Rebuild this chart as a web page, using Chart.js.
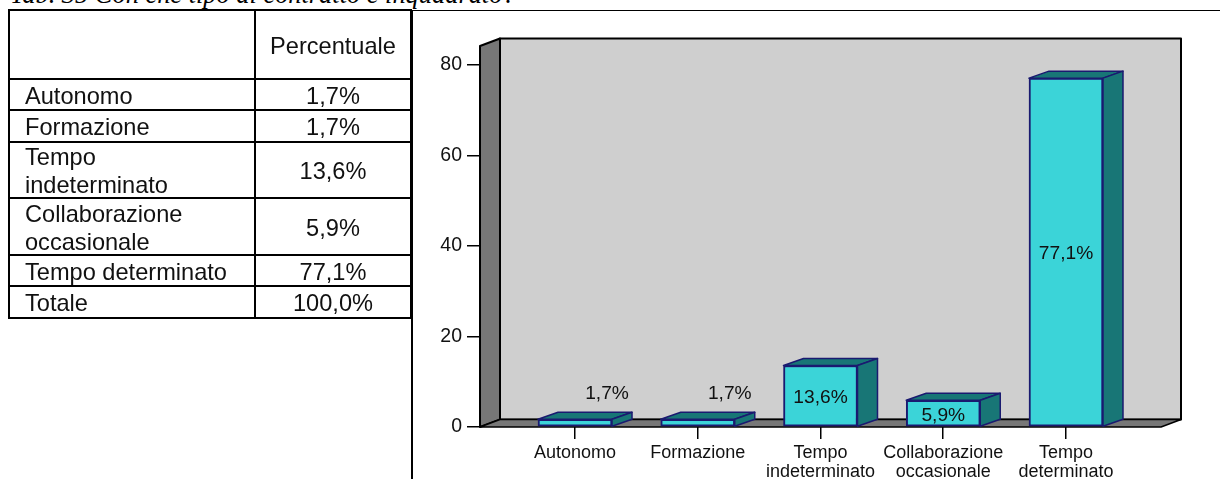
<!DOCTYPE html>
<html>
<head>
<meta charset="utf-8">
<script src="https://cdn.jsdelivr.net/npm/chart.js@4"></script>
<style>
html, body { margin: 0; padding: 0; background: #fff; width: 1220px; height: 479px; overflow: hidden; }
body { position: relative; font-family: "Liberation Sans", Arial, sans-serif; color: #000; }
#title { position: absolute; left: 10px; top: -21px; font: italic 26.4px "Liberation Serif", serif; white-space: nowrap; }
#chartBox { position: absolute; left: 0; top: 0; width: 1220px; height: 479px; }
#topLine { position: absolute; left: 412px; top: 10px; width: 808px; height: 1px; background: #000; }
#sideLine { position: absolute; left: 411px; top: 10px; width: 2px; height: 469px; background: #000; }
#dataTable { position: absolute; left: 8px; top: 9px; width: 404px; border-collapse: collapse; table-layout: fixed; font-size: 23.6px; line-height: 28px; color: #111; }
#dataTable td { border: 2px solid #000; padding: 0 0 0 15px; }
#dataTable td.num { text-align: center; padding: 0; }
#dataTable td div { margin: -2px 0; position: relative; top: 1px; }
</style>
</head>
<body>
<div id="title">Tab. 35 Con che tipo di contratto è inquadrato?</div>
<div id="chartBox"><canvas id="contractChart"></canvas></div>
<div id="topLine"></div>
<div id="sideLine"></div>
<table id="dataTable"></table>
<script>
const categories = ['Autonomo', 'Formazione', 'Tempo indeterminato', 'Collaborazione occasionale', 'Tempo determinato'];
const values = [1.7, 1.7, 13.6, 5.9, 77.1];
const valueLabels = ['1,7%', '1,7%', '13,6%', '5,9%', '77,1%'];
const yTicks = [0, 20, 40, 60, 80];
const xLabelLines = [['Autonomo'], ['Formazione'], ['Tempo', 'indeterminato'], ['Collaborazione', 'occasionale'], ['Tempo', 'determinato']];
const tableHeader = 'Percentuale';
const tableNames = ['Autonomo', 'Formazione', 'Tempo<br>indeterminato', 'Collaborazione<br>occasionale', 'Tempo determinato', 'Totale'];
const tableValues = ['1,7%', '1,7%', '13,6%', '5,9%', '77,1%', '100,0%'];

// table on the left
const rowHeights = [69, 31, 32, 56, 57, 31, 32];
let html = `<colgroup><col style="width:246px"><col></colgroup>`;
html += `<tr style="height:${rowHeights[0]}px"><td></td><td class="num"><div>${tableHeader}</div></td></tr>`;
tableNames.forEach((name, i) => {
    html += `<tr style="height:${rowHeights[i + 1]}px"><td><div>${name}</div></td><td class="num"><div>${tableValues[i]}</div></td></tr>`;
});
document.getElementById('dataTable').innerHTML = html;

// fake 3D depth of the old spreadsheet chart
const depthX = 20;
const depthY = 7.5;
const barDepthX = 20;
const barDepthY = 7;

function poly(ctx, pts, fill, stroke, lw) {
    ctx.beginPath();
    pts.forEach((p, i) => i ? ctx.lineTo(p[0], p[1]) : ctx.moveTo(p[0], p[1]));
    ctx.closePath();
    ctx.fillStyle = fill;
    ctx.fill();
    ctx.strokeStyle = stroke;
    ctx.lineWidth = lw;
    ctx.stroke();
}

const wallPlugin = {
    id: 'wall',
    beforeDatasetsDraw(chart) {
        const { ctx, chartArea: a } = chart;
        ctx.save();
        ctx.lineJoin = 'round';
        poly(ctx, [[a.left + depthX, a.top - depthY], [a.right + depthX, a.top - depthY], [a.right + depthX, a.bottom - depthY], [a.left + depthX, a.bottom - depthY]], '#cfcfcf', '#000', 2);
        poly(ctx, [[a.left, a.top], [a.left + depthX, a.top - depthY], [a.left + depthX, a.bottom - depthY], [a.left, a.bottom]], '#777777', '#000', 2);
        poly(ctx, [[a.left, a.bottom], [a.left + depthX, a.bottom - depthY], [a.right + depthX, a.bottom - depthY], [a.right, a.bottom]], '#777777', '#000', 1.5);
        ctx.restore();
    }
};

const barFacesPlugin = {
    id: 'barFaces',
    afterDatasetsDraw(chart) {
        const ctx = chart.ctx;
        const bars = chart.getDatasetMeta(0).data;
        ctx.save();
        ctx.lineJoin = 'round';
        bars.forEach((bar, i) => {
            const p = bar.getProps(['x', 'y', 'base', 'width'], true);
            const l = p.x - p.width / 2;
            const r = p.x + p.width / 2;
            poly(ctx, [[l, p.y], [l + barDepthX, p.y - barDepthY], [r + barDepthX, p.y - barDepthY], [r, p.y]], '#187676', '#1a1a70', 1.5);
            poly(ctx, [[r, p.y], [r + barDepthX, p.y - barDepthY], [r + barDepthX, p.base - barDepthY], [r, p.base]], '#187676', '#1a1a70', 1.5);

            // value label: inside the bar, or up and right when the bar is too thin
            const thin = p.base - p.y < 20;
            ctx.fillStyle = '#111';
            ctx.font = '19.2px "Liberation Sans", Arial, sans-serif';
            ctx.textAlign = 'center';
            ctx.textBaseline = 'middle';
            const lx = thin ? p.x + 32 : p.x;
            const ly = thin ? p.y - 26 : (p.y + p.base) / 2 + 2;
            ctx.fillText(valueLabels[i], lx, ly);
        });
        ctx.restore();
    }
};

new Chart(document.getElementById('contractChart').getContext('2d'), {
    type: 'bar',
    data: {
        datasets: [{
            data: categories.map((c, i) => ({ x: i, y: values[i] })),
            backgroundColor: '#3bd4d8',
            borderColor: '#1a1a70',
            borderWidth: 2,
            borderSkipped: false,
            barThickness: 74
        }]
    },
    options: {
        responsive: true,
        maintainAspectRatio: false,
        animation: false,
        layout: { padding: { top: 46, right: 59, left: 0, bottom: 0 } },
        plugins: { legend: { display: false }, tooltip: { enabled: false } },
        scales: {
            x: {
                type: 'linear',
                offset: false,
                min: -0.774,
                max: 4.774,
                afterBuildTicks: scale => { scale.ticks = categories.map((c, i) => ({ value: i })); },
                afterFit: scale => { scale.height = 52; },
                border: { display: false },
                grid: { offset: false, drawOnChartArea: false, drawTicks: true, tickLength: 12, color: '#000', lineWidth: 1.5 },
                ticks: {
                    autoSkip: false,
                    maxRotation: 0,
                    padding: 5,
                    color: '#111',
                    font: { family: '"Liberation Sans", Arial, sans-serif', size: 18, lineHeight: 1.04 },
                    callback: v => xLabelLines[v]
                }
            },
            y: {
                min: 0,
                max: 84.2,
                afterBuildTicks: scale => { scale.ticks = yTicks.map(v => ({ value: v })); },
                afterFit: scale => { scale.width = 480; },
                border: { display: false },
                grid: { drawOnChartArea: false, drawTicks: true, tickLength: 13, color: '#000', lineWidth: 1.5 },
                ticks: {
                    padding: 5,
                    color: '#111',
                    font: { family: '"Liberation Sans", Arial, sans-serif', size: 19.5 }
                }
            }
        }
    },
    plugins: [wallPlugin, barFacesPlugin]
});
</script>
</body>
</html>
